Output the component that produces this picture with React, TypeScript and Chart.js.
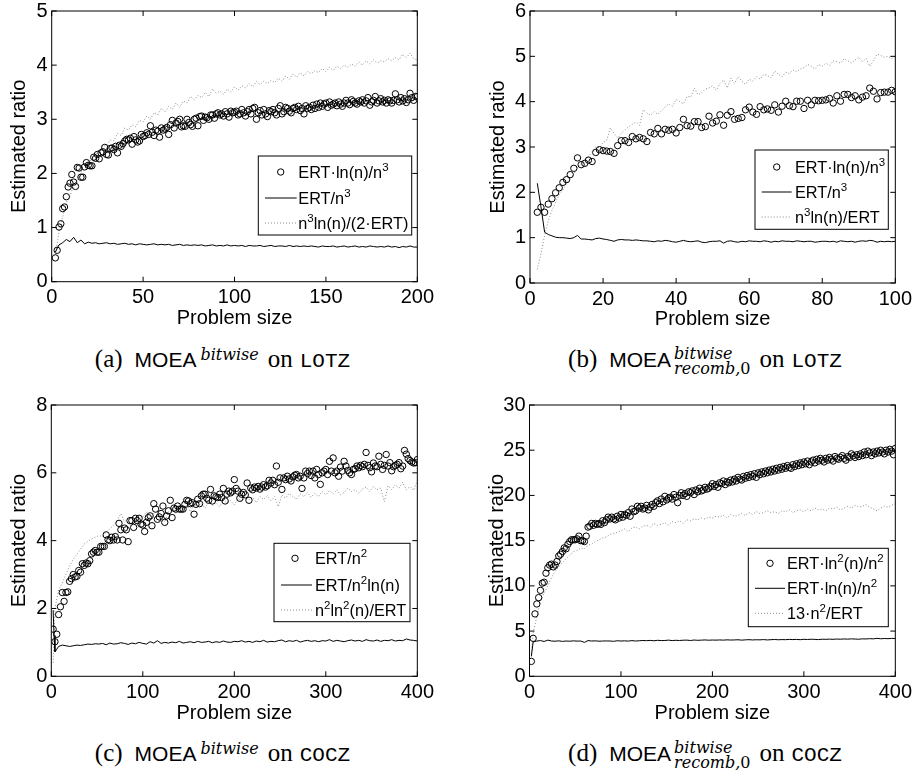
import React, { useEffect, useRef } from "react";
import { Chart, registerables } from "chart.js";

Chart.register(...registerables);

const SANS = '"Liberation Sans", Arial, Helvetica, sans-serif';
const SERIF = '"Liberation Serif", "Times New Roman", serif';
const MONO = '"Liberation Mono", "DejaVu Sans Mono", monospace';
const ITAL = '"DejaVu Serif", "Liberation Serif", serif';

function range(a: number, b: number, s: number): number[] {
  const out: number[] = [];
  for (let v = a; v <= b; v += s) out.push(v);
  return out;
}

// ---------------- Panel (a): MOEA bitwise on LOTZ ----------------
const sizesA = range(2, 200, 1);
const aErtLnN3 = [
  0.44, 0.58, 1.01, 1.07, 1.35, 1.38, 1.57, 1.75, 1.82, 1.98,
  1.84, 1.76, 2.11, 2.1, 1.93, 1.93, 2.12, 2.2, 2.15, 2.14,
  2.14, 2.3, 2.28, 2.35, 2.27, 2.38, 2.4, 2.48, 2.35, 2.34,
  2.46, 2.47, 2.44, 2.5, 2.38, 2.52, 2.5, 2.55, 2.6, 2.63,
  2.62, 2.65, 2.54, 2.68, 2.62, 2.58, 2.6, 2.72, 2.68, 2.7,
  2.75, 2.72, 2.88, 2.76, 2.7, 2.8, 2.78, 2.67, 2.84, 2.8,
  2.82, 2.85, 2.72, 2.9, 2.98, 2.84, 2.93, 2.96, 3.0, 2.86,
  2.88, 2.87, 3.0, 2.94, 2.9, 2.87, 3.0, 3.02, 2.88, 3.05,
  3.06, 2.98, 3.04, 3.03, 3.0, 3.08, 3.08, 3.02, 3.1, 3.12,
  3.08, 3.1, 3.06, 3.14, 3.1, 3.04, 3.15, 3.12, 3.13,
  3.15, 3.08, 3.1, 3.18, 3.12, 3.06, 3.14, 3.18, 3.1, 3.2,
  3.22, 3.0, 3.12, 3.16, 3.08, 3.18, 3.1, 3.05, 3.16, 3.14,
  3.18, 3.12, 3.08, 3.2, 3.25, 3.1, 3.14, 3.22, 3.2, 3.15,
  3.12, 3.2, 3.22, 3.18, 3.24, 3.16, 3.2, 3.1, 3.25, 3.2,
  3.22, 3.18, 3.26, 3.2, 3.28, 3.22, 3.3, 3.24, 3.28, 3.3,
  3.22, 3.32, 3.26, 3.28, 3.3, 3.25, 3.32, 3.28, 3.24, 3.3,
  3.35, 3.3, 3.27, 3.36, 3.33, 3.3, 3.28, 3.34, 3.32, 3.36,
  3.3, 3.34, 3.4, 3.26, 3.32, 3.35, 3.42, 3.3, 3.34, 3.38,
  3.32, 3.35, 3.3, 3.36, 3.34, 3.3, 3.35, 3.47, 3.36, 3.32,
  3.4, 3.34, 3.38, 3.31, 3.36, 3.48, 3.4, 3.35, 3.42, 3.42,
];
const sizesA2 = range(2, 200, 2);
const aErtN3 = [
  0.55, 0.68, 0.72, 0.78, 0.74, 0.82, 0.72, 0.77, 0.7, 0.73,
  0.71, 0.72, 0.7, 0.71, 0.72, 0.7, 0.71, 0.69, 0.7, 0.71,
  0.69, 0.7, 0.68, 0.7, 0.69, 0.68, 0.69, 0.7, 0.68, 0.69,
  0.68, 0.69, 0.67, 0.68, 0.69, 0.67, 0.68, 0.67, 0.68, 0.67,
  0.68, 0.66, 0.67, 0.68, 0.66, 0.67, 0.66, 0.68, 0.66, 0.67,
  0.66, 0.67, 0.65, 0.67, 0.66, 0.66, 0.67, 0.65, 0.66, 0.67,
  0.65, 0.66, 0.66, 0.65, 0.67, 0.65, 0.66, 0.65, 0.66, 0.65,
  0.66, 0.65, 0.64, 0.66, 0.65, 0.65, 0.66, 0.64, 0.65, 0.66,
  0.64, 0.65, 0.66, 0.64, 0.65, 0.64, 0.66, 0.65, 0.64, 0.65,
  0.64, 0.66, 0.64, 0.65, 0.63, 0.65, 0.64, 0.66, 0.64, 0.64,
];
const aN3LnHalfErt = [
  0.5, 0.92, 1.2, 1.46, 1.58, 1.78, 1.88, 2.02, 2.08, 2.2,
  2.26, 2.36, 2.4, 2.5, 2.52, 2.62, 2.6, 2.74, 2.7, 2.84,
  2.8, 2.9, 2.86, 2.98, 2.95, 3.06, 3.0, 3.12, 3.08, 3.2,
  3.14, 3.24, 3.18, 3.3, 3.22, 3.34, 3.3, 3.42, 3.36, 3.44,
  3.4, 3.5, 3.42, 3.56, 3.48, 3.52, 3.46, 3.56, 3.5, 3.6,
  3.54, 3.62, 3.58, 3.66, 3.6, 3.7, 3.64, 3.7, 3.66, 3.72,
  3.68, 3.76, 3.7, 3.8, 3.74, 3.84, 3.78, 3.86, 3.8, 3.88,
  3.84, 3.9, 3.86, 3.94, 3.88, 3.96, 3.9, 3.98, 3.94, 4.0,
  3.96, 4.02, 3.98, 4.06, 4.0, 4.08, 4.02, 4.1, 4.04, 4.08,
  4.06, 4.12, 4.08, 4.14, 4.1, 4.2, 4.14, 4.22, 4.12, 4.1,
];

// ---------------- Panel (b): MOEA bitwise recomb,0 on LOTZ ----------------
const sizesB = range(2, 100, 1);
const bErtLnN3 = [
  1.56, 1.67, 1.56, 1.74, 1.86, 1.99, 2.1, 2.22, 2.28, 2.39,
  2.53, 2.76, 2.61, 2.64, 2.71, 2.68, 2.88, 2.94, 2.92, 2.91,
  2.9, 2.86, 3.03, 3.14, 3.14, 3.1, 3.23, 3.18, 3.21, 3.18,
  3.12, 3.32, 3.29, 3.41, 3.29, 3.39, 3.37, 3.39, 3.31, 3.43,
  3.61, 3.47, 3.46, 3.56, 3.56, 3.43, 3.45, 3.68, 3.53, 3.57,
  3.71, 3.48, 3.7, 3.78, 3.61, 3.63, 3.65, 3.82, 3.88, 3.77,
  3.72, 3.89, 3.82, 3.84, 3.81, 3.93, 3.77, 3.9, 4.01, 3.91,
  3.89, 4.01, 4.01, 3.85, 4.03, 3.93, 4.03, 4.02, 4.03, 4.04,
  4.07, 3.97, 4.13, 4.01, 4.16, 4.16, 4.09, 4.13, 4.04, 4.1,
  4.13, 4.3, 4.23, 4.06, 4.2, 4.21, 4.21, 4.25, 4.22,
];
const bErtN3 = [
  2.2, 1.68, 1.12, 1.07, 1.04, 1.01, 1.0, 1.0, 0.99, 0.98,
  1.0, 1.05, 0.97, 0.97, 0.96, 0.95, 0.98, 0.99, 0.97, 0.96,
  0.94, 0.92, 0.95, 0.96, 0.95, 0.95, 0.94, 0.95, 0.94, 0.93,
  0.93, 0.92, 0.91, 0.93, 0.92, 0.94, 0.93, 0.91, 0.9, 0.92,
  0.94, 0.92, 0.91, 0.92, 0.93, 0.9, 0.89, 0.91, 0.92, 0.92,
  0.93, 0.88, 0.92, 0.93, 0.91, 0.9, 0.92, 0.91, 0.93, 0.92,
  0.92, 0.91, 0.93, 0.92, 0.9, 0.92, 0.91, 0.93, 0.92, 0.92,
  0.91, 0.93, 0.92, 0.91, 0.92, 0.92, 0.9, 0.91, 0.92, 0.92,
  0.91, 0.92, 0.9, 0.93, 0.92, 0.91, 0.92, 0.9, 0.92, 0.93,
  0.92, 0.94, 0.93, 0.9, 0.92, 0.91, 0.92, 0.91, 0.92,
];
const bN3LnErt = [
  0.3, 0.65, 1.05, 1.38, 1.6, 1.78, 1.95, 2.05, 2.2, 2.3,
  2.4, 2.55, 2.62, 2.7, 2.78, 2.9, 3.0, 2.98, 3.1, 3.15,
  3.42, 3.3, 3.2, 3.3, 3.38, 3.45, 3.5, 3.55, 3.48, 3.82,
  3.75, 3.7, 3.78, 3.72, 3.8, 3.88, 3.95, 3.9, 4.05, 4.0,
  3.95, 4.12, 4.1, 4.3, 4.15, 4.2, 4.28, 4.3, 4.35, 4.25,
  4.4, 4.48, 4.3, 4.52, 4.4, 4.55, 4.45, 4.38, 4.5, 4.45,
  4.55, 4.5, 4.6, 4.58, 4.52, 4.68, 4.6, 4.55, 4.65, 4.62,
  4.7, 4.66, 4.72, 4.75, 4.82, 4.78, 4.72, 4.82, 4.78, 4.85,
  4.8, 4.9, 4.88, 4.85, 4.95, 4.9, 4.85, 4.92, 4.98, 4.88,
  4.95, 4.78, 4.9, 5.05, 5.02, 4.98, 5.0, 4.95, 5.0,
];

// ---------------- Panel (c): MOEA bitwise on COCZ ----------------
const sizesC = range(2, 400, 2);
const cErtN2 = [
  1.39, 1.02, 1.24, 1.82, 2.05, 2.47, 2.21, 2.47, 2.49, 2.8,
  2.88, 3.0, 2.93, 2.95, 3.12, 3.07, 3.32, 3.27, 3.34, 3.32,
  3.41, 3.61, 3.66, 3.71, 3.66, 3.66, 3.83, 3.83, 3.83, 4.17,
  4.03, 4.0, 4.1, 4.02, 4.12, 4.02, 4.51, 4.32, 4.02, 4.37,
  4.32, 3.97, 4.59, 4.59, 4.39, 4.66, 4.59, 4.66, 4.49, 4.46,
  4.27, 4.54, 4.68, 4.73, 4.44, 5.09, 4.93, 4.63, 4.7, 4.8,
  5.02, 4.54, 4.73, 4.88, 5.19, 4.68, 4.96, 4.93, 5.02, 4.93,
  4.93, 4.93, 5.07, 5.19, 5.17, 5.09, 5.12, 4.78, 5.07, 5.22,
  5.09, 5.32, 5.37, 5.37, 5.25, 5.19, 5.51, 5.17, 5.32, 5.29,
  5.27, 5.37, 5.27, 5.54, 5.17, 5.37, 5.46, 5.41, 5.46, 5.8,
  5.54, 5.46, 5.25, 5.37, 5.42, 5.35, 5.7, 5.19, 5.55, 5.5,
  5.58, 5.55, 5.6, 5.52, 5.58, 5.65, 5.58, 5.62, 5.78, 5.7,
  5.78, 5.65, 6.2, 5.72, 5.85, 5.51, 5.85, 5.8, 5.9, 5.82,
  5.76, 5.88, 5.93, 5.95, 5.85, 5.9, 5.54, 5.85, 6.05, 5.98,
  6.05, 5.92, 6.05, 5.85, 6.1, 5.95, 5.66, 6.0, 6.05, 6.1,
  5.95, 6.34, 6.05, 6.44, 6.0, 6.05, 5.9, 6.17, 6.05, 6.34,
  6.2, 6.07, 6.0, 5.95, 6.1, 6.12, 6.2, 6.15, 6.22, 6.18,
  6.25, 6.6, 6.22, 6.15, 6.03, 6.29, 6.2, 6.18, 6.49, 6.25,
  6.1, 6.22, 6.54, 6.2, 6.3, 6.06, 6.18, 6.22, 6.25, 6.3,
  6.12, 6.2, 6.66, 6.55, 6.42, 6.36, 6.32, 6.29, 6.3, 6.39,
];
const sizesCSolid = [2, 3, 4, 6, 8, ...range(12, 400, 4)];
const cErtN2Ln = [
  1.95, 1.2, 0.72, 0.8, 0.88,
  0.92, 0.9, 0.88, 0.9, 0.92, 0.91, 0.93, 0.95, 0.94, 0.96,
  0.95, 0.97, 0.93, 0.98, 0.95, 0.96, 0.99, 0.97, 0.94, 0.98,
  0.96, 1.0, 0.97, 0.95, 1.02, 0.98, 1.05, 0.97, 1.0, 0.98,
  1.01, 0.99, 1.03, 0.98, 1.0, 1.02, 0.99, 1.03, 1.0, 1.01,
  1.03, 0.99, 1.02, 1.0, 1.04, 1.01, 1.0, 1.03, 1.02, 1.05,
  1.01, 1.03, 1.0, 1.04, 1.02, 1.06, 1.01, 1.03, 1.02, 1.05,
  1.07, 1.02, 1.05, 1.03, 1.06, 1.01, 1.04, 1.06, 1.03, 1.05,
  1.02, 1.05, 1.04, 1.08, 1.03, 1.06, 1.04, 1.02, 1.05, 1.07,
  1.04, 1.06, 1.03, 1.08, 1.05, 1.04, 1.07, 1.03, 1.06, 1.05,
  1.08, 1.04, 1.06, 1.05, 1.1, 1.07, 1.06, 1.04,
];
const sizesCDot = [2, ...range(4, 400, 4)];
const cN2Ln2Ert = [
  0.4,
  2.0, 2.55, 2.75, 3.0, 3.25, 3.45, 3.6, 3.75, 3.9, 3.98,
  4.05, 4.1, 4.15, 4.12, 4.25, 4.35, 4.45, 4.6, 4.8, 4.55,
  4.65, 4.7, 4.5, 4.75, 4.7, 4.85, 4.62, 4.8, 4.9, 4.72,
  4.55, 4.85, 4.95, 4.8, 5.0, 4.9, 5.05, 4.85, 5.08, 5.0,
  5.1, 4.95, 5.15, 5.05, 5.12, 5.0, 5.2, 5.1, 5.18, 5.05,
  5.25, 5.15, 5.3, 5.2, 5.28, 5.12, 5.3, 5.22, 5.32, 5.18,
  5.3, 5.0, 5.35, 5.25, 5.4, 5.3, 5.22, 5.38, 5.3, 5.42,
  5.28, 5.4, 5.3, 5.45, 5.35, 5.48, 5.38, 5.5, 5.35, 5.42,
  5.55, 5.45, 5.5, 5.4, 5.52, 5.58, 5.45, 5.6, 5.5, 5.55,
  5.15, 5.62, 5.5, 5.65, 5.55, 5.72, 5.5, 5.6, 5.48, 5.78,
];

// ---------------- Panel (d): MOEA bitwise recomb,0 on COCZ ----------------
const sizesD = range(2, 400, 2);
const dErtLn2N2 = [
  1.65, 4.2, 6.9, 8.0, 8.7, 9.5, 10.3, 10.4, 11.4, 12.0,
  12.3, 12.4, 12.1, 12.3, 12.7, 13.3, 13.5, 13.8, 14.2, 14.1,
  14.6, 14.9, 15.1, 15.1, 15.1, 15.2, 15.5, 15.0, 15.0, 14.9,
  15.5, 16.5, 16.6, 16.9, 16.7, 16.9, 16.8, 16.9, 16.8, 17.2,
  17.0, 17.3, 17.6, 17.4, 17.6, 17.4, 17.3, 17.7, 17.5, 17.9,
  17.6, 17.9, 17.8, 18.1, 17.7, 18.5, 18.2, 18.3, 18.8, 18.6,
  18.8, 18.5, 18.6, 18.9, 18.4, 18.7, 19.0, 18.8, 19.2, 19.4,
  19.1, 19.6, 19.3, 19.9, 19.5, 19.7, 19.8, 19.6, 20.1, 19.8,
  19.2, 20.0, 20.3, 20.0, 20.2, 19.9, 20.4, 20.3, 20.5, 20.1,
  20.6, 20.4, 20.8, 20.5, 20.6, 20.9, 20.7, 20.8, 21.0, 21.3,
  21.0, 21.2, 20.9, 21.4, 21.3, 21.6, 21.2, 21.5, 21.4, 21.7,
  21.5, 21.8, 21.6, 22.0, 21.8, 21.7, 22.1, 21.9, 22.2, 22.0,
  22.3, 22.1, 22.4, 22.0, 22.5, 22.3, 22.6, 22.4, 22.7, 22.5,
  22.8, 22.6, 22.9, 22.7, 23.0, 22.8, 23.1, 22.9, 23.2, 23.0,
  23.3, 23.1, 23.0, 23.4, 23.2, 23.5, 23.3, 23.6, 23.4, 23.7,
  23.5, 23.8, 23.4, 23.7, 23.9, 23.6, 24.0, 23.8, 24.1, 23.9,
  23.7, 24.1, 23.9, 24.2, 24.0, 23.8, 24.3, 24.1, 24.0, 24.2,
  24.4, 24.1, 23.9, 24.3, 24.2, 24.6, 24.4, 24.2, 24.5, 24.3,
  24.6, 24.4, 24.8, 24.5, 24.9, 24.7, 24.4, 24.8, 24.6, 24.9,
  24.7, 25.0, 24.8, 24.6, 25.0, 24.8, 25.1, 24.9, 24.5, 25.2,
];
const sizesDSolid = [2, 4, ...range(8, 400, 4)];
const dErtLnN2 = [
  2.2, 3.8,
  3.9, 3.95, 3.85, 4.0, 3.9, 3.88, 3.92, 3.86, 3.9, 3.88,
  3.92, 3.89, 3.9, 3.75, 3.95, 3.9, 3.92, 3.88, 3.9, 3.91,
  3.9, 3.87, 3.93, 3.9, 3.92, 3.89, 3.95, 3.9, 3.93, 3.96,
  3.94, 3.97, 3.93, 3.98, 3.95, 3.96, 4.0, 3.95, 3.98, 3.96,
  3.99, 4.0, 3.96, 4.01, 3.98, 4.0, 4.02, 3.99, 4.01, 4.0,
  4.02, 4.0, 4.03, 4.01, 4.02, 4.04, 4.0, 4.03, 4.05, 4.02,
  4.04, 4.03, 4.06, 4.02, 4.05, 4.07, 4.04, 4.06, 4.05, 4.08,
  4.06, 4.08, 4.05, 4.09, 4.07, 4.1, 4.08, 4.06, 4.1, 4.09,
  4.11, 4.09, 4.12, 4.1, 4.13, 4.11, 4.14, 4.12, 4.1, 4.14,
  4.13, 4.16, 4.14, 4.2, 4.15, 4.18, 4.16, 4.19, 4.18,
];
const sizesDDot = [2, ...range(4, 400, 4)];
const d13N2Ert = [
  2.5,
  4.8, 6.6, 8.3, 9.2, 10.0, 10.9, 11.6, 12.1, 12.6, 13.0,
  13.4, 13.8, 13.9, 14.2, 14.1, 14.5, 14.6, 14.9, 15.1, 15.3,
  15.4, 15.7, 15.8, 15.9, 16.1, 16.3, 16.0, 16.4, 16.5, 16.3,
  16.6, 16.7, 16.5, 16.9, 16.7, 16.8, 17.0, 16.7, 17.1, 17.0,
  17.2, 16.9, 17.3, 17.2, 17.4, 17.3, 17.5, 17.4, 17.6, 17.5,
  17.7, 17.6, 17.8, 17.5, 17.9, 17.7, 17.8, 18.0, 17.8, 18.1,
  17.9, 18.2, 18.0, 18.1, 18.3, 18.1, 18.2, 18.0, 18.3, 18.2,
  18.4, 18.1, 18.3, 18.4, 18.2, 18.5, 18.3, 18.6, 18.4, 18.5,
  18.3, 18.6, 18.5, 18.7, 18.4, 18.6, 18.8, 18.6, 18.9, 18.7,
  18.8, 19.0, 18.7, 18.5, 18.3, 18.6, 18.8, 18.7, 18.9, 19.1,
];

// ---------------- Legend labels ----------------
const legendA = ["ERT·ln(n)/n^{3}", "ERT/n^{3}", "n^{3}ln(n)/(2·ERT)"];
const legendB = ["ERT·ln(n)/n^{3}", "ERT/n^{3}", "n^{3}ln(n)/ERT"];
const legendC = ["ERT/n^{2}", "ERT/n^{2}ln(n)", "n^{2}ln^{2}(n)/ERT"];
const legendD = ["ERT·ln^{2}(n)/n^{2}", "ERT·ln(n)/n^{2}", "13·n^{2}/ERT"];

type Kind = "circle" | "solid" | "dotted";
interface Series { xs: number[]; ys: number[]; kind: Kind }
interface Spec {
  plot: [number, number, number, number];
  xMax: number; xStep: number; yMax: number; yStep: number;
  series: Series[];
  box: [number, number, number, number];
  rows: number[];
  markX: number; lineX: [number, number]; textX: number;
  labels: string[];
}

const panels: Spec[] = [
  {
    plot: [51.7, 9.3, 417.7, 281.7], xMax: 200, xStep: 50, yMax: 5, yStep: 1,
    series: [
      { xs: sizesA, ys: aErtLnN3, kind: "circle" },
      { xs: sizesA2, ys: aErtN3, kind: "solid" },
      { xs: sizesA2, ys: aN3LnHalfErt, kind: "dotted" },
    ],
    box: [258.3, 156, 411.7, 235], rows: [172, 198, 223], markX: 280.7, lineX: [265, 296.7], textX: 298.3,
    labels: legendA,
  },
  {
    plot: [530, 9.3, 896, 283], xMax: 100, xStep: 20, yMax: 6, yStep: 1,
    series: [
      { xs: sizesB, ys: bErtLnN3, kind: "circle" },
      { xs: sizesB, ys: bErtN3, kind: "solid" },
      { xs: sizesB, ys: bN3LnErt, kind: "dotted" },
    ],
    box: [755, 150, 888.3, 229.3], rows: [167, 192, 217], markX: 776.7, lineX: [761.7, 791.7], textX: 795,
    labels: legendB,
  },
  {
    plot: [51.3, 403.8, 417.7, 676.3], xMax: 400, xStep: 100, yMax: 8, yStep: 2,
    series: [
      { xs: sizesC, ys: cErtN2, kind: "circle" },
      { xs: sizesCSolid, ys: cErtN2Ln, kind: "solid" },
      { xs: sizesCDot, ys: cN2Ln2Ert, kind: "dotted" },
    ],
    box: [274, 543.3, 410, 621.7], rows: [558.3, 585, 610], markX: 295, lineX: [281, 312], textX: 315,
    labels: legendC,
  },
  {
    plot: [529.5, 403.8, 896, 676.3], xMax: 400, xStep: 100, yMax: 30, yStep: 5,
    series: [
      { xs: sizesD, ys: dErtLn2N2, kind: "circle" },
      { xs: sizesDSolid, ys: dErtLnN2, kind: "solid" },
      { xs: sizesDDot, ys: d13N2Ert, kind: "dotted" },
    ],
    box: [748.3, 548.3, 888.3, 626.7], rows: [563.3, 588.3, 613.3], markX: 770, lineX: [755, 785], textX: 787,
    labels: legendD,
  },
];

const DOT_COLOR = "#8c8c8c";
const DOT_DASH = [1, 2];

function drawRich(ctx: CanvasRenderingContext2D, text: string, x: number, baseline: number) {
  const re = /\^\{([^}]*)\}/g;
  let last = 0;
  let cx = x;
  const parts: { t: string; sup: boolean }[] = [];
  let m: RegExpExecArray | null;
  while ((m = re.exec(text)) !== null) {
    if (m.index > last) parts.push({ t: text.slice(last, m.index), sup: false });
    parts.push({ t: m[1], sup: true });
    last = m.index + m[0].length;
  }
  if (last < text.length) parts.push({ t: text.slice(last), sup: false });
  ctx.textBaseline = "alphabetic";
  ctx.textAlign = "left";
  for (const p of parts) {
    ctx.font = p.sup ? `11.5px ${SANS}` : `16.3px ${SANS}`;
    ctx.fillText(p.t, cx, p.sup ? baseline - 7 : baseline);
    cx += ctx.measureText(p.t).width;
  }
}

function PanelChart({ spec }: { spec: Spec }) {
  const ref = useRef<HTMLCanvasElement | null>(null);
  const [L, T, R, B] = spec.plot;
  const cl = Math.floor(L - 52);
  const ct = Math.floor(T - 14);
  const cr = Math.min(918, Math.ceil(R + 20));
  const cb = Math.ceil(B + 48);
  const w = cr - cl;
  const h = cb - ct;

  useEffect(() => {
    const canvas = ref.current;
    if (!canvas) return;
    const yW = L - cl;
    const padTop = T - ct;
    const padRight = cr - R;
    const xH = cb - B;

    const datasets = spec.series.map((s) => {
      const data = s.xs.slice(0, Math.min(s.xs.length, s.ys.length)).map((x, i) => ({ x, y: s.ys[i] }));
      if (s.kind === "circle") {
        return {
          data, showLine: false, pointStyle: "circle", pointRadius: 3.2,
          pointBorderColor: "#000", pointBackgroundColor: "rgba(0,0,0,0)", pointBorderWidth: 1,
          borderColor: "#000", order: 0,
        };
      }
      if (s.kind === "solid") {
        return { data, borderColor: "#000", borderWidth: 1, pointRadius: 0, tension: 0, order: 1 };
      }
      return { data, borderColor: DOT_COLOR, borderWidth: 1, borderDash: DOT_DASH, pointRadius: 0, tension: 0, order: 2 };
    });

    const framePlugin = {
      id: "frameLegend",
      afterDatasetsDraw(chart: any) {
        const { ctx, chartArea } = chart;
        const { left, top, right, bottom } = chartArea;
        const xs = chart.scales.x;
        const ys = chart.scales.y;
        ctx.save();
        ctx.strokeStyle = "#000";
        ctx.lineWidth = 1;
        ctx.setLineDash([]);
        ctx.strokeRect(left, top, right - left, bottom - top);
        ctx.beginPath();
        xs.ticks.forEach((t: any) => {
          const px = xs.getPixelForValue(t.value);
          ctx.moveTo(px, bottom); ctx.lineTo(px, bottom - 5);
          ctx.moveTo(px, top); ctx.lineTo(px, top + 5);
        });
        ys.ticks.forEach((t: any) => {
          const py = ys.getPixelForValue(t.value);
          ctx.moveTo(left, py); ctx.lineTo(left + 5, py);
          ctx.moveTo(right, py); ctx.lineTo(right - 5, py);
        });
        ctx.stroke();

        // legend
        const [bx0, by0, bx1, by1] = spec.box;
        const ox = cl, oy = ct;
        ctx.fillStyle = "#fff";
        ctx.fillRect(bx0 - ox, by0 - oy, bx1 - bx0, by1 - by0);
        ctx.strokeStyle = "#000";
        ctx.strokeRect(bx0 - ox, by0 - oy, bx1 - bx0, by1 - by0);
        spec.series.forEach((s, i) => {
          const ry = spec.rows[i] - oy;
          ctx.save();
          if (s.kind === "circle") {
            ctx.beginPath();
            ctx.arc(spec.markX - ox, ry, 3.2, 0, Math.PI * 2);
            ctx.strokeStyle = "#000";
            ctx.lineWidth = 1;
            ctx.stroke();
          } else {
            ctx.beginPath();
            ctx.moveTo(spec.lineX[0] - ox, ry);
            ctx.lineTo(spec.lineX[1] - ox, ry);
            ctx.lineWidth = 1;
            if (s.kind === "solid") {
              ctx.strokeStyle = "#000";
            } else {
              ctx.strokeStyle = DOT_COLOR;
              ctx.setLineDash(DOT_DASH);
            }
            ctx.stroke();
          }
          ctx.restore();
          ctx.fillStyle = "#000";
          drawRich(ctx, spec.labels[i], spec.textX - ox, ry + 6);
        });
        ctx.restore();
      },
    };

    const chart = new Chart(canvas, {
      type: "line",
      data: { datasets: datasets as any },
      options: {
        responsive: false,
        maintainAspectRatio: false,
        animation: false,
        devicePixelRatio: 1,
        events: [],
        layout: { padding: { left: 0, top: padTop, right: padRight, bottom: 0 } },
        plugins: { legend: { display: false }, tooltip: { enabled: false } },
        scales: {
          x: {
            type: "linear", min: 0, max: spec.xMax,
            grid: { display: false, drawTicks: false },
            border: { display: false },
            ticks: {
              stepSize: spec.xStep, color: "#000", padding: 4, maxRotation: 0, minRotation: 0, autoSkip: false,
              font: { family: SANS, size: 20 },
            },
            title: {
              display: true, text: "Problem size", color: "#000",
              font: { family: SANS, size: 20 }, padding: { top: 0, bottom: 0 },
            },
            afterFit: (s: any) => { s.height = xH; },
          },
          y: {
            type: "linear", min: 0, max: spec.yMax,
            grid: { display: false, drawTicks: false },
            border: { display: false },
            ticks: { stepSize: spec.yStep, color: "#000", padding: 4, font: { family: SANS, size: 20 } },
            title: {
              display: true, text: "Estimated ratio", color: "#000",
              font: { family: SANS, size: 20 }, padding: { top: 8, bottom: 0 },
            },
            afterFit: (s: any) => { s.width = yW; },
          },
        },
      } as any,
      plugins: [framePlugin],
    });
    return () => chart.destroy();
  }, []);

  return (
    <canvas
      ref={ref}
      width={w}
      height={h}
      style={{ position: "absolute", left: cl, top: ct, width: w, height: h }}
    />
  );
}

function Caption({ cx, baseline, letter, stacked, problem }: { cx: number; baseline: number; letter: string; stacked: boolean; problem: string }) {
  return (
    <div
      style={{
        position: "absolute", left: cx, top: baseline - 21, transform: "translateX(-50%)",
        display: "flex", alignItems: "baseline", whiteSpace: "nowrap", color: "#000",
      }}
    >
      <span style={{ font: `25px ${SERIF}`, lineHeight: 1 }}>({letter})</span>
      <span style={{ font: `21px ${SANS}`, lineHeight: 1, marginLeft: 12 }}>MOEA</span>
      {stacked ? (
        <span style={{ display: "inline-flex", flexDirection: "column", lineHeight: "15px", marginLeft: 3, position: "relative", top: -8 }}>
          <span style={{ font: `italic 16px ${ITAL}`, lineHeight: "15px" }}>bitwise</span>
          <span style={{ font: `italic 16px ${ITAL}`, lineHeight: "15px" }}>
            recomb,<span style={{ fontStyle: "normal" }}>0</span>
          </span>
        </span>
      ) : (
        <span style={{ font: `italic 16px ${ITAL}`, lineHeight: 1, marginLeft: 4, position: "relative", top: -7 }}>bitwise</span>
      )}
      <span style={{ font: `25px ${SERIF}`, lineHeight: 1, marginLeft: 9 }}>on</span>
      <span style={{ font: `21px ${MONO}`, lineHeight: 1, marginLeft: 7 }}>{problem}</span>
    </div>
  );
}

export default function App() {
  return (
    <div style={{ position: "absolute", left: 0, top: 0, width: 918, height: 771, overflow: "hidden", background: "#fff" }}>
      {panels.map((p, i) => (
        <PanelChart key={i} spec={p} />
      ))}
      <Caption cx={222.5} baseline={367} letter="a" stacked={false} problem="LOTZ" />
      <Caption cx={705} baseline={367} letter="b" stacked={true} problem="LOTZ" />
      <Caption cx={222.5} baseline={761} letter="c" stacked={false} problem="COCZ" />
      <Caption cx={705} baseline={761} letter="d" stacked={true} problem="COCZ" />
    </div>
  );
}
